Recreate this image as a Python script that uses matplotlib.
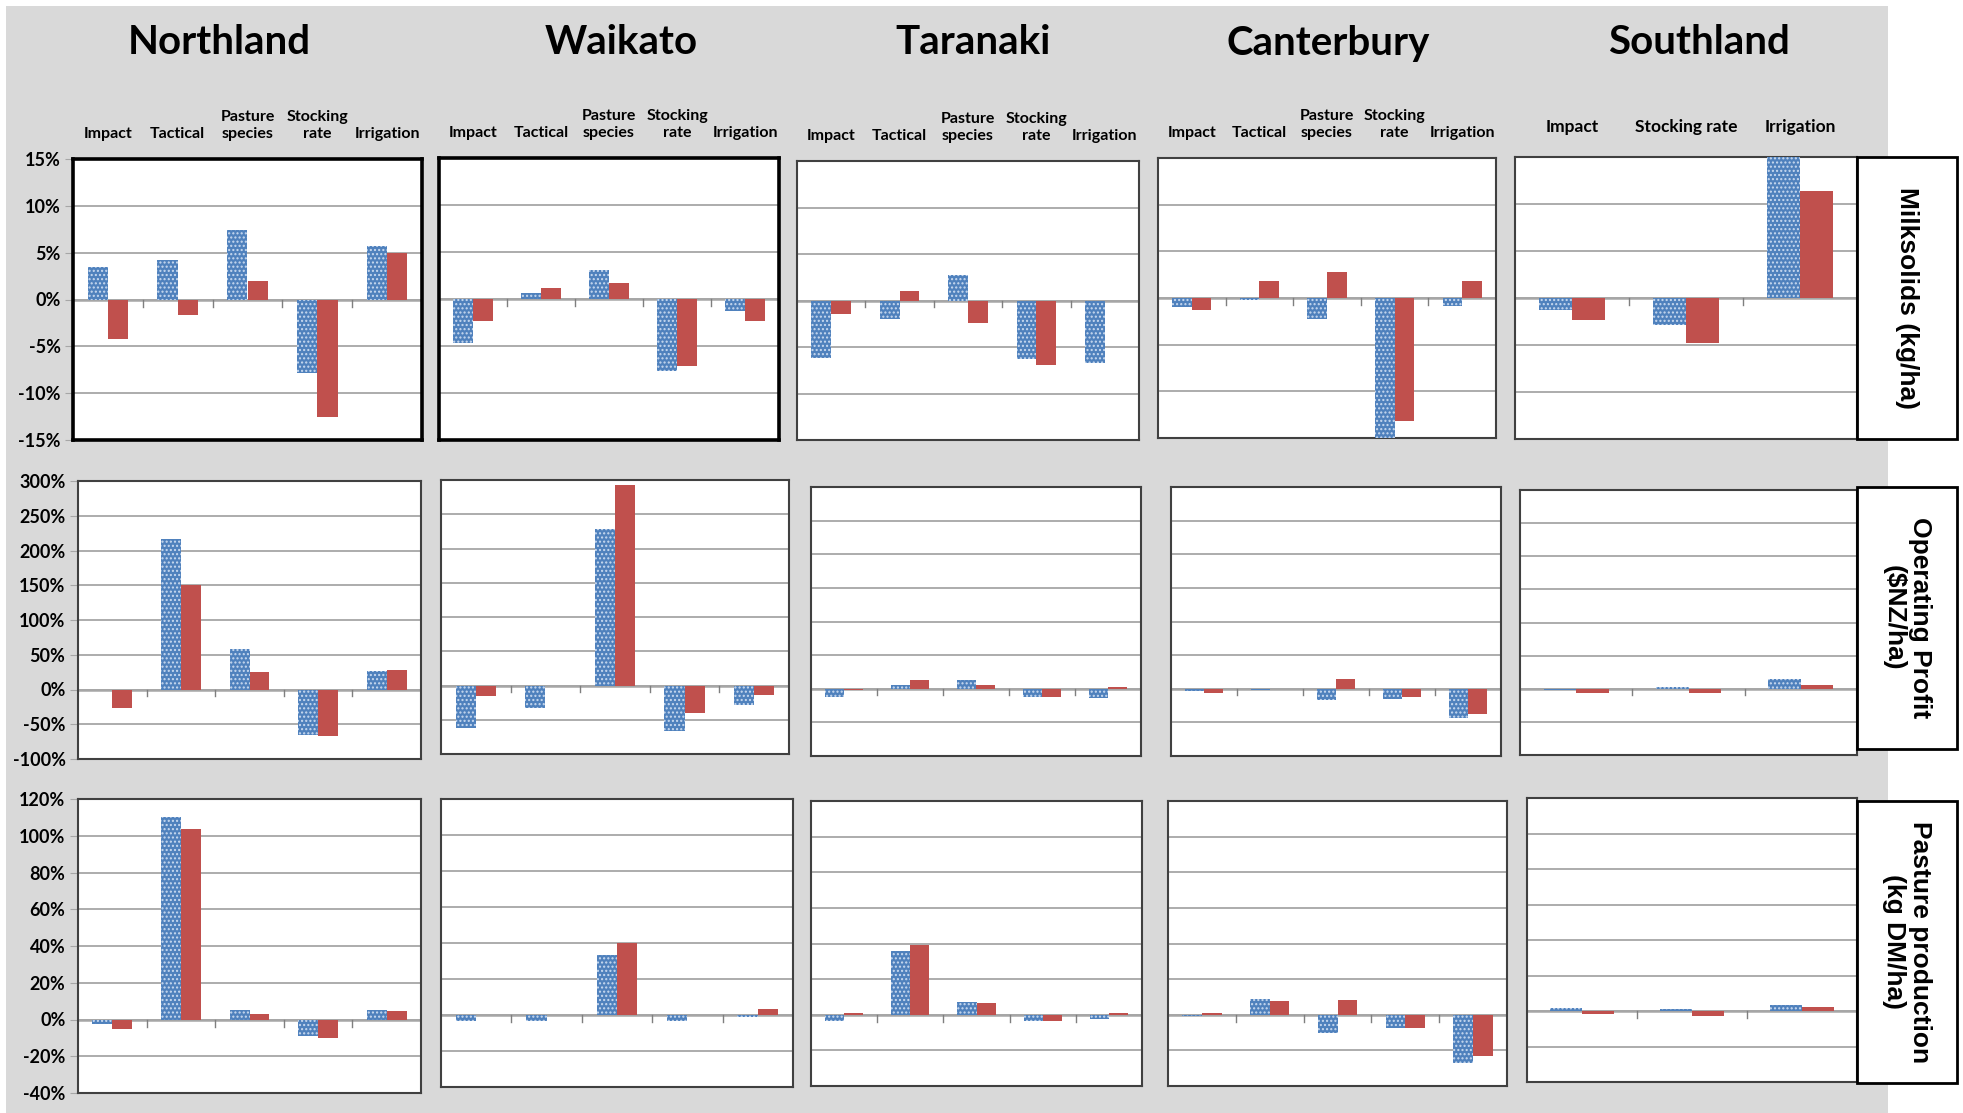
import numpy as np
import matplotlib.pyplot as plt
from matplotlib.patches import Rectangle

plt.rcParams['font.family'] = ['Lato', 'DejaVu Sans']
plt.rcParams['hatch.linewidth'] = 1.0

# ---- data (percent change) ----
regions = ['Northland', 'Waikato', 'Taranaki', 'Canterbury', 'Southland']
cats_5 = ['Impact', 'Tactical', 'Pasture\nspecies', 'Stocking\nrate', 'Irrigation']
cats_south = ['Impact', 'Stocking rate', 'Irrigation']
metrics = ['Milksolids (kg/ha)', 'Operating Profit\n($NZ/ha)', 'Pasture production\n(kg DM/ha)']

# blue (dotted) series
milk_blue = [[3.5, 4.2, 7.4, -7.8, 5.7],
             [-4.7, 0.6, 3.1, -7.7, -1.3],
             [-6.2, -2.0, 2.7, -6.3, -6.7],
             [-1.0, -0.2, -2.3, -15.3, -0.9],
             [-1.3, -2.9, 16.5]]
profit_blue = [[-1, 216, 58, -65, 27],
               [-62, -33, 229, -66, -28],
               [-13, 6, 13, -12, -14],
               [-3, -2, -17, -15, -44],
               [-2, 2, 14]]
pasture_blue = [[-2.4, 110.4, 5.1, -8.9, 5.1],
                [-3.5, -3.5, 33.5, -3.5, -1.2],
                [-3.7, 36.0, 7.2, -3.7, -2.6],
                [-0.5, 8.8, -10.5, -7.5, -27.0],
                [1.5, 1.2, 3.2]]
# red (solid) series
milk_red = [[-4.2, -1.7, 2.0, -12.5, 5.0],
            [-2.3, 1.2, 1.7, -7.1, -2.3],
            [-1.5, 1.0, -2.4, -6.9, 0.0],
            [-1.3, 1.8, 2.8, -13.2, 1.8],
            [-2.3, -4.8, 11.4]]
profit_red = [[-27, 150, 25, -67, 28],
              [-15, 0, 293, -40, -14],
              [-2, 13, 6, -13, 2],
              [-6, 0, 14, -12, -37],
              [-6, -6, 6]]
pasture_red = [[-5.3, 103.5, 2.9, -10.2, 4.4],
               [0.0, 0.0, 40.0, 0.0, 3.3],
               [1.0, 39.0, 6.5, -3.3, 0.9],
               [0.8, 7.5, 8.5, -7.5, -23.0],
               [-1.5, -3.0, 2.0]]

blue_rows = [milk_blue, profit_blue, pasture_blue]
red_rows = [milk_red, profit_red, pasture_red]
ylims = [(-15, 15, 5), (-100, 300, 50), (-40, 120, 20)]

# ---- layout (pixels in a 1963 x 1113 canvas) ----
W, H = 1963, 1113
panel_boxes = [
    [(73, 159, 422, 440), (439, 158, 779, 440), (797, 161, 1139, 440), (1158, 158, 1496, 438), (1515, 157, 1857, 439)],
    [(78, 481, 421, 759), (441, 480, 789, 754), (811, 487, 1141, 756), (1171, 487, 1501, 756), (1520, 490, 1857, 755)],
    [(78, 799, 421, 1093), (441, 799, 793, 1087), (811, 801, 1142, 1086), (1168, 801, 1507, 1086), (1527, 798, 1857, 1082)],
]
label_boxes = [(1857, 157, 1957, 439), (1857, 487, 1957, 749), (1857, 801, 1957, 1083)]
title_x = [219, 621, 973, 1328, 1699]

blue_face = '#4F81BD'
blue_dots = '#C9DAF0'
red_face = '#C0504D'
grid_col = '#A6A6A6'

fig = plt.figure(figsize=(W / 100, H / 100), dpi=100)
fig.patch.set_facecolor('white')
fig.patches.append(Rectangle((6 / W, 0), (1888 - 6) / W, 1 - 6 / H, transform=fig.transFigure,
                             facecolor='#D9D9D9', edgecolor='none', zorder=-10))


def px_axes(box):
    l, t, r, b = box
    return fig.add_axes([l / W, 1 - b / H, (r - l) / W, (b - t) / H])


for ri in range(3):
    lo, hi, step = ylims[ri]
    for ci in range(5):
        ax = px_axes(panel_boxes[ri][ci])
        cats = cats_south if ci == 4 else cats_5
        n = len(cats)
        x = np.arange(n)
        bw = 0.29
        ax.bar(x - bw / 2, blue_rows[ri][ci], bw, facecolor=blue_face, edgecolor=blue_dots,
               hatch='....', linewidth=0, zorder=3)
        ax.bar(x + bw / 2, red_rows[ri][ci], bw, color=red_face, linewidth=0, zorder=3)
        ax.set_xlim(-0.5, n - 0.5)
        ax.set_ylim(lo, hi)
        ticks = np.arange(lo, hi + step / 2, step)
        ax.set_yticks(ticks)
        ax.grid(axis='y', color=grid_col, linewidth=1.3, zorder=1)
        ax.axhline(0, color=grid_col, linewidth=1.8, zorder=2)
        tl = 0.025 * (hi - lo)
        for b in np.arange(0.5, n - 0.5, 1):
            ax.plot([b, b], [0, -tl], color='#7F7F7F', linewidth=1.0, zorder=2)
        thick = (ri == 0 and ci < 2)
        for s in ax.spines.values():
            s.set_color('black' if thick else '#404040')
            s.set_linewidth(2.6 if thick else 1.5)
        if ci == 0:
            ax.set_yticklabels([f'{int(t)}%' for t in ticks], fontsize=13, fontweight='bold')
            ax.tick_params(axis='y', length=6, color=grid_col, pad=3)
        else:
            ax.tick_params(axis='y', left=False, labelleft=False)
        if ri == 0:
            ax.xaxis.tick_top()
            ax.set_xticks(x)
            ax.set_xticklabels(cats, fontsize=11.5 if ci < 4 else 12.5, fontweight='bold', linespacing=1.25)
            ax.tick_params(axis='x', length=0, pad=13 if ci < 4 else 16)
        else:
            ax.set_xticks([])

for ci, name in enumerate(regions):
    fig.text(title_x[ci] / W, 1 - 43 / H, name, ha='center', va='center',
             fontsize=29, fontweight='bold')

for ri, (l, t, r, b) in enumerate(label_boxes):
    fig.patches.append(Rectangle((l / W, 1 - b / H), (r - l) / W, (b - t) / H, transform=fig.transFigure,
                                 facecolor='white', edgecolor='black', linewidth=2, zorder=5))
    fig.text((l + r) / 2 / W, 1 - (t + b) / 2 / H, metrics[ri], rotation=-90, ha='center', va='center',
             fontsize=19, fontweight='bold', family=['Liberation Sans', 'DejaVu Sans'],
             multialignment='center', linespacing=1.1, zorder=6)

fig.savefig('out.png', dpi=100)
